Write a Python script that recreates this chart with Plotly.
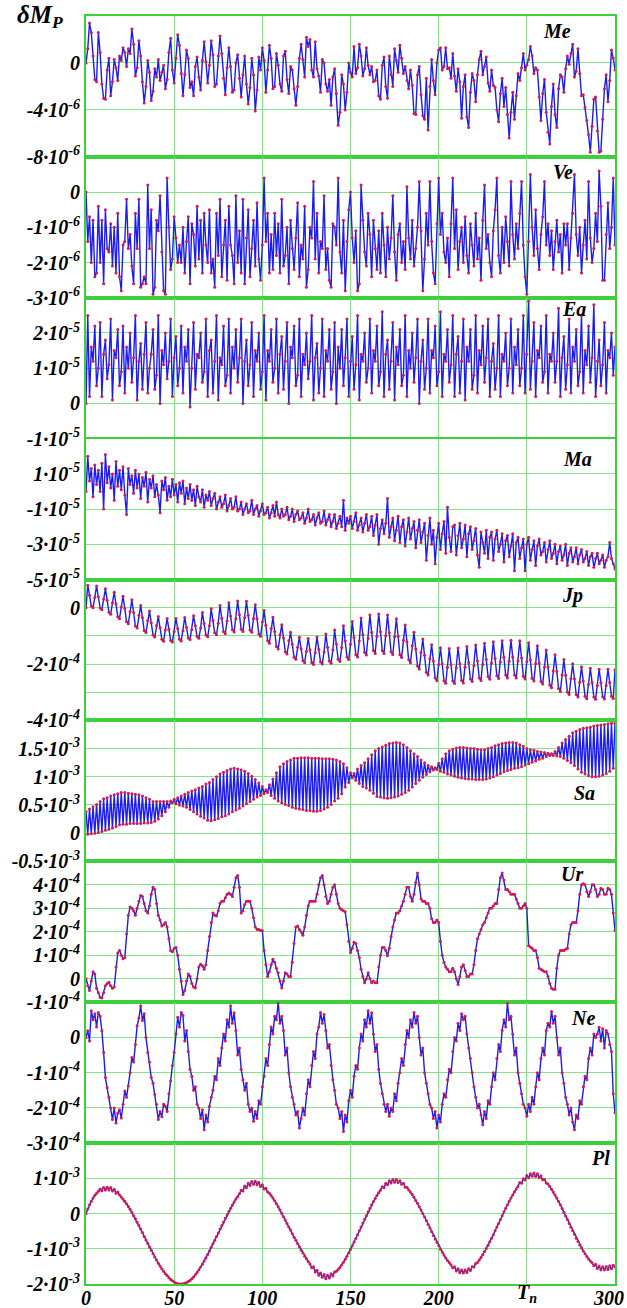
import plotly.graph_objects as go
from plotly.subplots import make_subplots

# ---------------- data (in scaled units) ----------------
# Me : units of 1e-6
me = [0, 1.2, 3.4, 2.6, 0.6, -1.4, -1.6, 2.6, 0.9, -1.8,
      -3.0, -3.1, -0.6, 0.4, -2.8, -1.6, 0.3, -0.4, -1.5, 0.6,
      0.2, 1.3, 0.9, -0.3, 1.2, 0.8, 2.9, 1.6, -1.1, -0.4,
      1.9, 0.6, -1.6, -3.4, -2.0, 0.2, -0.8, -3.2, -2.4, -0.5,
      -1.2, 0.3, -1.5, -0.8, -0.2, -2.2, -1.4, 0.9, 2.1, -0.6,
      -1.7, 0.4, 2.4, 1.5, -0.9, -2.8, -1.0, 1.1, 0.4, -2.1,
      -1.6, -2.8, -0.3, 0.5, -1.2, -2.3, 0.2, 1.8, 0.1, -1.7,
      -0.2, 1.9, 0.7, -2.0, -1.8, 0.6, 2.3, 0.8, -1.3, -2.7,
      -0.4, 1.3, -0.3, -2.5, -2.3, 0.0, 0.7, -1.3, -2.9, -1.0,
      0.6, -1.8, -3.5, -2.1, 0.4, -1.0, -4.1, -2.3, 0.5, -0.6,
      1.3, 0.2, -2.5, -0.6, 1.5, 0.4, -2.2, -2.0, 0.8, -0.2,
      -1.8, -2.4, 0.6, 1.0, -1.4, -2.6, -0.3, -0.6, -2.2, -3.6,
      -2.0, 0.4, 1.6, 0.3, -1.2, 2.2, 1.4, 2.0, -0.6, -1.2,
      1.8, -0.5, -1.1, -2.5, 0.3, 0.0, -1.8, -2.4, -1.4, -3.6,
      -1.2, -0.5, -2.6, -5.3, -4.2, -1.0, -1.8, -4.0, -2.5, 0.0,
      -0.8, -1.2, 1.4, -0.9, -0.4, 1.6, 0.6, -1.1, -0.5, 1.3,
      -0.2, -1.0, -0.3, -1.6, -1.5, -0.6, -2.8, -3.1, -0.2, 0.5,
      -2.0, -3.0, 0.6, -1.0, -2.0, 1.2, 0.2, -0.8, 1.5, 0.4,
      -0.9, -0.3, -1.5, -2.2, -0.6, -1.9, -4.3, -4.4, -1.0, -0.3,
      -2.7, -4.5, -4.8, -1.3, -5.7, -2.0, 0.3, -1.5, -2.7, 0.0,
      1.1, 1.3, -0.6, -0.3, 1.3, -0.5, -0.4, -1.3, 0.8, -1.1,
      -2.4, -0.5, -1.6, -4.7, -2.0, -1.0, -4.6, -5.5, -2.5, -0.9,
      -1.5, -3.3, -1.0, 0.3, 1.0, -1.0, -0.3, 0.5, -1.7, -2.4,
      -0.6, -1.9, -2.1, -4.0, -5.0, -2.6, -1.3, -3.7, -2.1, -4.4,
      -6.4, -4.2, -2.5, -4.8, -2.8, -0.9, -1.5, -0.4, 0.8, -0.6,
      -0.2, 0.3, 1.4, 0.6, -0.9, -0.4, -0.6, -2.9, -4.9, -2.6,
      -1.4, -4.2, -5.9, -6.9, -3.7, -1.8, -4.4, -5.5, -2.2, -1.0,
      -1.2, -2.5, -0.5, 0.6, -0.1, 0.8, 1.6, -1.2, -0.7, 1.2,
      -0.9, -2.8, -2.7, -3.8, -4.9, -6.1, -7.6, -5.4, -3.1, -2.9,
      -5.8, -7.6, -7.5, -4.8, -2.2, -1.0, -3.3, -1.5, 1.1, 0.4,
      -0.6]

# Ve : units of 1e-6
ve = [0.0, -1.4, -0.7, -2.0, -0.8, -2.4, -2.3, -0.4, -2.0, -0.8,
      -2.6, -0.5, -1.6, -1.7, -0.9, -2.1, -1.0, -2.3, -0.6, -2.4,
      -2.8, -1.5, -1.4, -0.2, -1.6, -1.2, -2.1, -2.6, -0.6, -1.6,
      -0.2, -2.7, -2.6, -2.4, -2.6, 0.2, -1.6, -0.5, -2.9, -2.7,
      -0.8, -1.1, -0.1, -1.7, -2.8, -2.9, 0.4, -1.0, -2.2, -1.9,
      -0.7, -1.3, -2.0, -1.5, -2.0, -1.0, -2.3, -1.4, -0.7, -2.6,
      -0.9, -1.2, -2.1, -0.4, -1.9, -0.8, -2.3, -0.6, -1.5, -2.0,
      -0.5, -2.3, -1.9, -2.7, -0.6, -1.8, -0.2, -2.4, -1.5, -0.8,
      -2.5, -0.4, -1.5, -1.8, -2.6, -0.1, -2.0, -1.1, -2.3, -0.2,
      -2.6, -1.3, -0.5, -2.4, -1.6, -0.8, -2.1, -0.3, -1.9, -2.5,
      -1.5, 0.4, -1.4, -0.6, -2.3, -1.2, -2.2, -0.6, -1.8, -0.9,
      -2.3, -0.2, -2.1, -1.8, -1.0, -2.6, -0.8, -1.6, -2.2, -1.3,
      -0.3, -2.4, -1.5, -1.9, -0.4, -2.7, -2.2, -1.0, -1.3, 0.3,
      -1.9, -0.6, -2.3, -1.4, -1.6, -0.1, -2.2, -1.6, -2.5, -2.7,
      -0.9, -1.0, -1.5, 0.4, -1.7, -2.3, -0.8, -2.8, -1.4, -0.5,
      0.0, -1.3, -2.0, -1.1, -2.8, -2.6, 0.2, -0.8, -1.7, -2.1,
      -0.6, -1.2, -2.4, -0.8, -1.6, -2.2, -1.1, -2.3, -0.6, -1.5,
      -2.4, -1.0, -1.9, -1.3, -0.1, -1.7, -2.5, -1.2, -0.9, -2.0,
      -1.4, -2.2, 0.15, -1.3, -1.9, -0.8, -2.1, -1.6, -1.0, 0.3,
      -1.1, -2.8, -1.9, -0.6, -1.5, 0.3, -1.4, -2.3, -2.6, -0.9,
      0.4, -1.2, -0.6, -1.7, -2.0, -1.3, -2.4, -0.9, 0.4, -1.6,
      -0.5, -2.2, -1.4, -1.0, -2.0, -0.7, -1.8, -2.3, -0.9, -1.5,
      -2.1, -0.6, -1.9, -1.3, -2.5, -0.8, 0.2, -1.6, -1.2, -2.0,
      -2.4, -1.1, -0.5, 0.4, -1.8, -2.3, -1.0, -2.0, -0.7, -1.4,
      -2.1, 0.3, -1.2, -1.9, -0.9, -1.6, -0.6, 0.3, -1.5, -2.4,
      -2.9, -1.4, 0.5, -1.0, -1.8, -0.5, -1.6, -2.2, -1.2, -0.7,
      0.3, -1.5, -0.9, -1.8, -1.1, -2.2, -1.4, -0.8, -1.7, -1.2,
      -2.3, -0.9, -1.5, -0.9, -2.2, -1.3, -0.6, 0.5, -1.2, -1.8,
      -1.0, -2.3, -1.5, -0.8, -1.9, 0.3, -1.3, -2.0, -1.6, -0.6,
      -1.4, 0.6, -0.4, -2.5, -2.5, -1.2, -0.3, -1.6, -1.0, 0.4,
      -1.5]

# Ea : units of 1e-5
ea = [0.0, 2.5, 0.2, 1.6, 1.2, 2.2, 0.5, 1.0, 2.3, 0.2,
      1.4, 1.8, 0.7, 1.1, 2.4, 0.1, 1.5, 1.3, 2.1, 0.5,
      0.9, 2.2, 0.3, 1.6, 1.0, 2.0, 0.6, 1.3, 2.5, 0.1,
      1.2, 1.7, 0.4, 1.4, 2.3, 0.3, 1.0, 1.4, 2.1, 0.4,
      0.8, 2.5, 0.0, 1.5, 1.1, 2.0, 0.7, 1.2, 2.4, 0.2,
      1.3, 1.9, 0.5, 1.0, 2.2, 0.3, 1.6, 1.2, 2.1, -0.1,
      1.0, 2.3, 0.4, 1.4, 1.3, 2.0, 0.6, 0.9, 2.4, 0.2,
      1.5, 1.8, 0.3, 1.2, 2.5, 0.1, 1.3, 1.1, 2.2, 0.5,
      0.8, 2.4, 0.3, 1.6, 1.0, 2.1, 0.6, 1.3, 2.4, 0.0,
      1.2, 1.8, 0.5, 1.1, 2.3, 0.2, 1.5, 1.2, 2.0, 0.4,
      0.9, 2.5, 0.1, 1.5, 1.2, 2.1, 0.6, 1.0, 2.4, 0.3,
      1.4, 1.9, 0.4, 1.2, 2.3, 0.0, 1.6, 1.3, 2.2, 0.5,
      0.8, 2.4, 0.2, 1.4, 1.1, 2.0, 0.7, 1.2, 2.5, 0.1,
      1.3, 1.7, 0.3, 1.0, 2.4, 0.2, 1.5, 1.2, 2.1, 0.4,
      0.9, 2.3, 0.0, 1.6, 1.0, 2.1, 0.5, 1.3, 2.4, 0.2,
      1.2, 1.9, 0.4, 1.1, 2.5, 0.1, 1.4, 1.2, 2.0, 0.6,
      1.0, 2.4, 0.3, 1.5, 1.2, 2.2, 0.5, 0.9, 2.6, 0.2,
      1.4, 1.8, 0.4, 1.2, 2.3, 0.1, 1.6, 1.1, 2.1, 0.5,
      0.8, 2.5, 0.2, 1.5, 1.0, 2.0, 0.6, 1.3, 2.4, 0.0,
      1.2, 1.8, 0.4, 1.0, 2.4, 0.3, 1.5, 1.3, 2.2, 0.5,
      0.9, 2.6, 0.2, 1.4, 1.2, 2.1, 0.6, 1.1, 2.5, 0.2,
      1.4, 1.9, 0.3, 1.2, 2.4, 0.1, 1.6, 1.2, 2.1, 0.4,
      0.8, 2.5, 0.3, 1.5, 1.1, 2.2, 0.6, 1.3, 2.4, 0.2,
      1.2, 1.7, 0.4, 1.0, 2.5, 0.2, 1.4, 1.2, 2.0, 0.5,
      1.0, 2.4, 0.3, 1.6, 1.1, 2.1, 0.5, 1.0, 2.5, 0.3,
      1.4, 2.9, 0.4, 1.2, 2.3, 0.2, 1.5, 1.3, 2.2, 0.6,
      0.9, 2.5, 0.3, 1.4, 1.2, 2.0, 0.6, 1.2, 2.7, 0.2,
      1.3, 1.9, 0.4, 1.1, 2.4, 0.3, 1.6, 1.2, 2.1, 0.5,
      0.9, 2.5, 0.3, 1.5, 1.1, 2.2, 0.6, 1.3, 2.8, 0.2,
      1.2, 1.8, 0.5, 1.1, 2.3, 0.3, 1.5, 1.3, 2.0, 0.8,
      1.6]

# Ma : units of 1e-5
ma = [0.0, 2.0, 0.6, 1.3, -0.3, 1.5, 0.4, 1.2, 0.0, 1.6,
      -1.0, 2.1, 0.5, 1.4, 0.2, 1.0, -0.5, 1.7, 0.3, 1.2,
      0.1, 1.4, -0.2, -1.3, 1.3, 0.4, 0.9, -0.1, 1.2, 0.2,
      1.0, -0.4, 0.8, 0.3, 1.1, -0.6, 0.7, 0.2, 0.9, -0.3,
      0.4, -0.2, -1.2, 0.6, 0.1, 0.8, -0.5, 0.3, -0.3, 0.7,
      -0.2, 0.4, -0.6, 0.5, -0.1, 0.6, -0.7, 0.2, -0.4, 0.4,
      -0.5, 0.1, -0.8, 0.3, -0.3, -0.6, 0.1, -0.9, -0.2, -0.5,
      0.0, -0.8, -0.4, -0.1, -1.0, -0.6, -0.3, -0.9, -0.7, -0.2,
      -1.1, -0.8, -0.4, -1.0, -0.9, -0.3, -1.1, -1.0, -0.6, -1.3,
      -1.0, -0.7, -1.2, -1.1, -0.5, -1.3, -1.0, -0.8, -1.4, -1.1,
      -0.7, -1.3, -1.2, -0.9, -1.5, -1.2, -0.8, -1.4, -0.6, -1.3,
      -1.5, -1.0, -1.4, -1.3, -0.9, -1.6, -1.4, -1.0, -1.7, -1.3,
      -1.1, -1.6, -1.5, -1.2, -1.8, -1.5, -1.0, -1.7, -1.6, -1.3,
      -1.9, -1.5, -1.2, -1.8, -1.7, -1.1, -1.9, -1.6, -1.3, -2.0,
      -1.7, -1.3, -2.1, -1.8, -1.4, -2.0, -0.5, -2.2, -1.5, -1.8,
      -1.4, -2.1, -1.7, -1.2, -2.2, -1.9, -1.5, -2.3, -1.8, -1.3,
      -2.2, -2.0, -1.4, -2.5, -1.9, -1.3, -3.0, -2.1, -1.6, -2.4,
      -1.8, -0.4, -2.6, -2.0, -1.5, -2.8, -2.2, -1.4, -2.9, -2.0,
      -1.6, -3.1, -2.3, -1.5, -2.7, -2.1, -1.7, -3.2, -2.2, -1.6,
      -2.9, -2.3, -1.8, -3.9, -2.5, -1.5, -3.0, -2.2, -4.1, -2.6,
      -1.8, -3.3, -2.4, -1.7, -3.5, -0.9, -2.6, -3.4, -2.0, -1.9,
      -3.6, -2.5, -1.8, -3.2, -2.7, -1.9, -3.7, -2.4, -2.0, -3.3,
      -2.8, -2.1, -3.6, -4.3, -2.3, -2.9, -3.5, -2.2, -3.8, -2.6,
      -2.3, -3.9, -2.7, -2.2, -3.4, -3.0, -2.4, -4.0, -2.8, -2.5,
      -3.7, -3.1, -2.4, -4.5, -2.9, -2.6, -3.8, -3.2, -2.7, -4.5,
      -3.0, -2.6, -3.9, -3.3, -2.8, -4.2, -3.1, -2.7, -3.6, -3.4,
      -2.9, -4.0, -3.3, -2.8, -3.8, -3.5, -3.0, -4.1, -3.4, -3.1,
      -3.9, -3.6, -3.0, -4.2, -3.5, -3.2, -4.0, -3.7, -3.2, -4.1,
      -3.6, -3.3, -4.0, -3.8, -3.4, -4.2, -3.7, -3.5, -4.3, -3.8,
      -3.5, -4.1, -3.9, -3.6, -4.3, -3.9, -3.7, -2.9, -3.8, -4.1,
      -4.4]

# Jp : units of 1e-4
jp = [0.00, 0.80, 0.44, 0.06, 0.00, 0.36, 0.77, 0.39, -0.01, -0.07,
      0.31, 0.67, 0.27, -0.16, -0.23, 0.18, 0.55, 0.13, -0.32, -0.39,
      0.03, 0.41, -0.03, -0.50, -0.57, -0.13, 0.28, -0.17, -0.65, -0.72,
      -0.27, 0.08, -0.35, -0.81, -0.88, -0.45, -0.12, -0.53, -0.97, -1.04,
      -0.63, -0.31, -0.71, -1.12, -1.19, -0.79, -0.38, -0.76, -1.16, -1.22,
      -0.84, -0.38, -0.74, -1.12, -1.18, -0.82, -0.35, -0.70, -1.07, -1.13,
      -0.78, -0.28, -0.64, -1.02, -1.08, -0.72, -0.17, -0.56, -0.97, -1.03,
      -0.64, -0.04, -0.45, -0.89, -0.96, -0.55, 0.08, -0.37, -0.85, -0.92,
      -0.47, 0.18, -0.29, -0.78, -0.86, -0.39, 0.24, -0.25, -0.76, -0.84,
      -0.35, 0.23, -0.27, -0.79, -0.87, -0.38, 0.11, -0.39, -0.93, -1.01,
      -0.51, -0.10, -0.62, -1.17, -1.26, -0.74, -0.34, -0.84, -1.38, -1.46,
      -0.96, -0.60, -1.07, -1.56, -1.64, -1.17, -0.87, -1.30, -1.76, -1.83,
      -1.40, -1.05, -1.46, -1.88, -1.95, -1.55, -1.09, -1.50, -1.94, -2.01,
      -1.60, -1.04, -1.47, -1.93, -2.00, -1.57, -0.93, -1.40, -1.89, -1.97,
      -1.50, -0.79, -1.29, -1.83, -1.91, -1.41, -0.64, -1.18, -1.75, -1.84,
      -1.30, -0.49, -1.06, -1.66, -1.75, -1.18, -0.36, -0.95, -1.58, -1.68,
      -1.09, -0.26, -0.87, -1.52, -1.62, -1.01, -0.22, -0.85, -1.52, -1.62,
      -0.99, -0.26, -0.89, -1.56, -1.66, -1.03, -0.39, -1.01, -1.67, -1.77,
      -1.15, -0.61, -1.21, -1.85, -1.95, -1.35, -0.87, -1.46, -2.07, -2.17,
      -1.59, -1.11, -1.69, -2.29, -2.39, -1.81, -1.31, -1.89, -2.49, -2.59,
      -2.01, -1.42, -1.99, -2.59, -2.68, -2.11, -1.45, -2.01, -2.60, -2.69,
      -2.13, -1.43, -1.99, -2.58, -2.67, -2.11, -1.38, -1.94, -2.53, -2.62,
      -2.06, -1.32, -1.89, -2.49, -2.58, -2.01, -1.26, -1.84, -2.44, -2.54,
      -1.96, -1.21, -1.80, -2.41, -2.51, -1.93, -1.17, -1.76, -2.39, -2.49,
      -1.90, -1.15, -1.75, -2.39, -2.49, -1.89, -1.17, -1.78, -2.43, -2.53,
      -1.92, -1.24, -1.85, -2.50, -2.60, -1.99, -1.35, -1.96, -2.61, -2.71,
      -2.10, -1.50, -2.10, -2.74, -2.84, -2.24, -1.67, -2.26, -2.87, -2.97,
      -2.39, -1.84, -2.40, -2.99, -3.08, -2.52, -1.99, -2.52, -3.08, -3.17,
      -2.64, -2.09, -2.60, -3.14, -3.23, -2.72, -2.15, -2.65, -3.17, -3.25,
      -2.76, -2.18, -2.66, -3.16, -3.24, -2.76, -2.18, -2.65, -3.14, -3.22,
      -2.20]

# Sa : units of 1e-3
sa = [0.38, -0.02, 0.43, -0.01, 0.47, 0.00, 0.51, 0.01, 0.56, 0.03,
      0.61, 0.05, 0.63, 0.07, 0.66, 0.09, 0.68, 0.12, 0.70, 0.15,
      0.72, 0.16, 0.72, 0.16, 0.71, 0.17, 0.70, 0.17, 0.69, 0.17,
      0.68, 0.17, 0.66, 0.18, 0.63, 0.18, 0.60, 0.19, 0.56, 0.21,
      0.56, 0.25, 0.56, 0.31, 0.56, 0.38, 0.56, 0.46, 0.57, 0.54,
      0.60, 0.52, 0.63, 0.50, 0.66, 0.48, 0.69, 0.46, 0.72, 0.42,
      0.75, 0.38, 0.77, 0.34, 0.80, 0.30, 0.83, 0.27, 0.87, 0.23,
      0.90, 0.22, 0.95, 0.24, 1.00, 0.26, 1.05, 0.29, 1.08, 0.31,
      1.11, 0.34, 1.14, 0.38, 1.15, 0.41, 1.14, 0.44, 1.12, 0.48,
      1.10, 0.52, 1.06, 0.56, 1.01, 0.60, 0.95, 0.64, 0.89, 0.67,
      0.83, 0.70, 0.77, 0.72, 0.86, 0.67, 0.96, 0.62, 1.07, 0.57,
      1.18, 0.54, 1.23, 0.51, 1.27, 0.49, 1.30, 0.46, 1.33, 0.44,
      1.33, 0.43, 1.34, 0.42, 1.34, 0.40, 1.34, 0.40, 1.33, 0.39,
      1.33, 0.39, 1.33, 0.40, 1.32, 0.43, 1.32, 0.46, 1.32, 0.51,
      1.31, 0.57, 1.30, 0.62, 1.27, 0.70, 1.23, 0.82, 1.16, 0.90,
      1.07, 0.98, 1.06, 0.94, 1.14, 0.88, 1.20, 0.83, 1.25, 0.80,
      1.32, 0.76, 1.39, 0.71, 1.46, 0.65, 1.50, 0.64, 1.53, 0.63,
      1.56, 0.62, 1.59, 0.63, 1.60, 0.64, 1.61, 0.66, 1.60, 0.69,
      1.57, 0.72, 1.52, 0.76, 1.46, 0.82, 1.41, 0.88, 1.36, 0.94,
      1.30, 0.99, 1.25, 1.04, 1.20, 1.09, 1.18, 1.12, 1.16, 1.13,
      1.24, 1.10, 1.32, 1.08, 1.41, 1.05, 1.46, 1.03, 1.49, 1.01,
      1.51, 0.99, 1.52, 0.98, 1.52, 0.97, 1.51, 0.96, 1.50, 0.96,
      1.50, 0.95, 1.49, 0.95, 1.48, 0.95, 1.48, 0.96, 1.50, 0.98,
      1.52, 1.00, 1.55, 1.03, 1.57, 1.06, 1.59, 1.09, 1.60, 1.11,
      1.61, 1.13, 1.61, 1.15, 1.60, 1.16, 1.57, 1.18, 1.54, 1.21,
      1.50, 1.23, 1.48, 1.26, 1.47, 1.28, 1.45, 1.31, 1.44, 1.33,
      1.43, 1.36, 1.42, 1.38, 1.41, 1.38, 1.45, 1.37, 1.52, 1.36,
      1.60, 1.33, 1.66, 1.29, 1.72, 1.25, 1.78, 1.20, 1.81, 1.14,
      1.84, 1.08, 1.86, 1.05, 1.87, 1.02, 1.88, 1.00, 1.90, 1.00,
      1.91, 1.01, 1.92, 1.03, 1.93, 1.06, 1.94, 1.10, 1.95, 1.15,
      1.95]

# Ur : units of 1e-4
ur = [0.0, -0.3, -0.5, -0.1, 0.3, 0.2, -0.4, -0.6, -0.8, -0.82,
      -0.6, -0.3, -0.2, -0.15, -0.3, -0.4, -0.35, 0.5, 1.1, 1.2,
      1.0, 0.85, 0.9, 1.9, 2.7, 3.05, 3.0, 2.9, 2.7, 3.0,
      3.3, 3.55, 3.5, 3.2, 2.9, 2.8, 3.1, 3.6, 3.9, 3.8,
      3.2, 2.7, 2.5, 2.25, 2.3, 2.4, 2.2, 1.7, 1.2, 1.15,
      1.3, 1.33, 1.0, 0.4, -0.1, -0.67, -0.5, -0.1, 0.2, 0.1,
      -0.2, -0.35, -0.39, 0.0, 0.5, 0.62, 0.55, 0.4, 0.6, 1.2,
      1.8, 2.4, 2.8, 2.7, 2.67, 2.9, 3.2, 3.3, 3.3, 3.45,
      3.6, 3.65, 3.6, 3.5, 3.9, 4.3, 4.4, 3.9, 2.8, 2.9,
      3.16, 3.3, 3.3, 3.3, 3.0, 2.6, 2.2, 2.1, 2.1, 2.05,
      2.05, 1.2, 0.6, 0.1, 0.3, 0.6, 0.83, 0.7, 0.45, 0.25,
      -0.1, -0.39, -0.1, 0.25, 0.2, 0.1, 0.1, 0.7, 1.5, 2.2,
      2.25, 2.1, 2.0, 1.85, 2.2, 2.7, 3.1, 3.3, 3.3, 3.3,
      3.3, 3.6, 4.0, 4.3, 4.4, 4.0, 3.5, 3.2, 3.3, 3.6,
      3.9, 4.0, 3.6, 3.2, 3.0, 2.95, 2.9, 2.85, 2.3, 1.6,
      1.12, 1.3, 1.55, 1.5, 1.2, 0.9, 0.4, 0.1, -0.17, 0.0,
      0.25, 0.0, -0.17, -0.1, -0.17, -0.17, 0.5, 1.0, 1.33, 1.33,
      1.2, 0.98, 1.3, 1.8, 2.2, 2.5, 2.8, 2.8, 2.9, 3.1,
      3.3, 3.6, 3.9, 3.9, 3.5, 3.3, 3.6, 4.1, 4.5, 4.0,
      3.4, 3.3, 3.3, 3.2, 3.2, 3.0, 2.55, 2.4, 2.4, 2.5,
      2.4, 1.6, 1.0, 0.7, 0.5, 0.4, 0.3, 0.3, 0.45, 0.3,
      0.0, -0.25, 0.1, 0.5, 0.6, 0.35, 0.1, 0.1, 0.2, 0.2,
      0.6, 1.2, 1.7, 1.9, 2.1, 2.3, 2.4, 2.6, 2.8, 3.0,
      3.0, 3.1, 3.2, 3.2, 3.8, 4.3, 4.5, 4.2, 3.8, 3.8,
      3.7, 3.6, 3.6, 3.6, 3.4, 3.2, 3.0, 3.0, 3.1, 3.2,
      3.0, 1.4, 1.35, 1.3, 1.2, 1.2, 0.9, 0.45, 0.4, 0.35,
      0.3, 0.3, 0.1, -0.2, -0.4, -0.45, -0.45, 0.45, 1.0, 1.2,
      1.2, 1.2, 1.26, 1.3, 1.9, 2.3, 2.4, 2.4, 2.4, 2.9,
      3.6, 4.0, 4.05, 4.0, 3.7, 3.5, 3.7, 4.0, 4.0, 3.8,
      3.5, 3.6, 3.85, 3.8, 3.6, 3.6, 3.85, 3.8, 3.6, 2.8,
      2.05]

# Ne : units of 1e-4
ne = [0.0, 0.19, -0.1, 0.76, 0.5, 0.67, 0.3, 0.71, 0.6, 0.19,
      -0.43, -1.14, -1.43, -1.7, -2.0, -2.33, -2.0, -2.43, -2.15, -2.05,
      -2.29, -1.9, -1.52, -1.7, -1.38, -1.0, -0.57, -0.7, -0.2, 0.33,
      0.55, 0.9, 0.48, 0.67, 0.0, -0.43, -0.7, -1.14, -1.3, -1.62,
      -1.9, -2.33, -2.1, -2.25, -1.9, -1.95, -2.1, -1.6, -1.24, -0.8,
      -0.43, 0.1, 0.57, 0.3, 0.71, 0.62, -0.1, 0.2, -0.4, -0.9,
      -1.1, -1.5, -1.4, -1.9, -2.0, -2.3, -2.05, -2.62, -2.2, -2.4,
      -1.95, -1.7, -1.5, -1.1, -1.2, -0.6, -0.8, -0.3, 0.1, -0.1,
      0.5, 0.3, 0.9, 0.4, 0.7, 0.2, -0.5, -0.3, -0.9, -1.2,
      -1.5, -1.3, -1.9, -2.1, -2.0, -2.38, -2.1, -2.3, -1.8, -1.9,
      -1.4, -1.1, -0.6, -0.8, -0.2, 0.3, 0.1, 0.6, 0.5, 1.0,
      0.4, 0.6, 0.2, -0.5, -0.3, -1.0, -1.4, -1.7, -1.9, -2.2,
      -2.1, -2.57, -2.3, -2.0, -2.2, -1.6, -1.2, -1.4, -0.8, -0.4,
      -0.6, 0.1, 0.3, 0.71, 0.4, 0.65, 0.2, -0.3, -0.2, -0.8,
      -1.2, -1.5, -1.9, -2.0, -2.3, -2.1, -2.67, -2.2, -2.4, -1.8,
      -1.5, -1.7, -1.1, -0.8, -0.9, -0.3, 0.1, -0.1, 0.5, 0.3,
      0.76, 0.4, 0.7, 0.1, -0.4, -0.2, -0.9, -1.3, -1.6, -1.9,
      -2.1, -1.9, -2.24, -2.0, -2.1, -1.6, -1.8, -1.3, -1.0, -0.6,
      -0.8, -0.2, 0.2, 0.0, 0.5, 0.3, 0.71, 0.4, 0.6, 0.0,
      -0.5, -0.3, -1.0, -1.3, -1.6, -1.9, -2.0, -2.3, -2.1, -2.57,
      -2.2, -2.4, -1.9, -1.6, -1.7, -1.2, -0.9, -1.0, -0.4, 0.0,
      -0.1, 0.4, 0.2, 0.67, 0.5, 0.6, 0.1, -0.3, -0.6, -1.0,
      -1.4, -1.7, -2.0, -1.9, -2.2, -2.48, -2.1, -2.3, -1.8, -1.9,
      -1.4, -1.0, -1.2, -0.6, -0.2, -0.4, 0.2, 0.5, 0.3, 0.97,
      0.5, 0.6, 0.1, -0.5, -0.3, -1.0, -1.3, -1.6, -1.9, -2.0,
      -2.24, -1.9, -2.1, -1.7, -1.9, -1.4, -1.0, -1.2, -0.6, -0.3,
      -0.5, 0.2, 0.4, 0.3, 0.74, 0.4, 0.6, 0.0, -0.5, -0.3,
      -1.0, -1.3, -1.7, -1.9, -2.2, -2.0, -2.4, -2.62, -2.2, -2.3,
      -1.8, -1.9, -1.4, -1.1, -1.2, -0.6, -0.3, -0.5, 0.1, 0.0,
      0.1, 0.29, -0.1, 0.25, -0.3, 0.2, 0.1, -0.2, -0.4, -1.6,
      -2.14]

# Pl : units of 1e-3
pl = [0.00, 0.13, 0.25, 0.35, 0.44, 0.52, 0.58, 0.63, 0.70, 0.65,
      0.74, 0.67, 0.75, 0.67, 0.74, 0.64, 0.69, 0.58, 0.61, 0.53,
      0.47, 0.41, 0.35, 0.28, 0.20, 0.12, 0.03, -0.06, -0.15, -0.25,
      -0.34, -0.44, -0.54, -0.65, -0.75, -0.85, -0.95, -1.04, -1.14, -1.23,
      -1.32, -1.41, -1.49, -1.57, -1.64, -1.71, -1.76, -1.82, -1.87, -1.91,
      -1.94, -1.97, -1.99, -2.00, -2.00, -2.00, -1.98, -1.96, -1.93, -1.90,
      -1.85, -1.80, -1.74, -1.67, -1.60, -1.52, -1.44, -1.35, -1.26, -1.16,
      -1.06, -0.96, -0.86, -0.76, -0.65, -0.55, -0.44, -0.34, -0.24, -0.13,
      -0.04, 0.06, 0.15, 0.24, 0.33, 0.41, 0.48, 0.56, 0.66, 0.64,
      0.78, 0.73, 0.86, 0.80, 0.91, 0.83, 0.92, 0.82, 0.89, 0.77,
      0.82, 0.70, 0.72, 0.61, 0.58, 0.51, 0.44, 0.36, 0.28, 0.19,
      0.10, 0.01, -0.09, -0.18, -0.28, -0.38, -0.47, -0.57, -0.67, -0.76,
      -0.86, -0.95, -1.04, -1.12, -1.21, -1.28, -1.36, -1.43, -1.54, -1.51,
      -1.66, -1.61, -1.75, -1.69, -1.81, -1.73, -1.85, -1.75, -1.83, -1.71,
      -1.77, -1.66, -1.64, -1.59, -1.53, -1.46, -1.38, -1.30, -1.21, -1.12,
      -1.02, -0.92, -0.81, -0.71, -0.60, -0.49, -0.38, -0.27, -0.16, -0.06,
      0.05, 0.15, 0.25, 0.34, 0.43, 0.51, 0.59, 0.66, 0.76, 0.73,
      0.86, 0.82, 0.93, 0.87, 0.97, 0.89, 0.97, 0.88, 0.93, 0.83,
      0.86, 0.75, 0.75, 0.67, 0.61, 0.54, 0.46, 0.37, 0.29, 0.19,
      0.10, 0.00, -0.10, -0.20, -0.31, -0.41, -0.52, -0.62, -0.72, -0.82,
      -0.91, -1.01, -1.09, -1.18, -1.26, -1.33, -1.39, -1.45, -1.54, -1.51,
      -1.63, -1.57, -1.68, -1.60, -1.69, -1.60, -1.67, -1.57, -1.62, -1.51,
      -1.52, -1.42, -1.39, -1.32, -1.25, -1.17, -1.08, -0.99, -0.90, -0.80,
      -0.70, -0.60, -0.49, -0.38, -0.28, -0.17, -0.06, 0.05, 0.15, 0.25,
      0.35, 0.44, 0.53, 0.62, 0.70, 0.77, 0.88, 0.86, 0.99, 0.95,
      1.08, 1.02, 1.13, 1.06, 1.15, 1.05, 1.13, 1.02, 1.07, 0.96,
      0.97, 0.87, 0.84, 0.77, 0.69, 0.61, 0.53, 0.44, 0.34, 0.25,
      0.14, 0.04, -0.07, -0.17, -0.28, -0.39, -0.49, -0.59, -0.70, -0.79,
      -0.89, -0.98, -1.06, -1.14, -1.22, -1.29, -1.35, -1.40, -1.48, -1.44,
      -1.56, -1.49, -1.60, -1.51, -1.60, -1.50, -1.59, -1.48, -1.57, -1.47,
      -1.52]

panel_names = ["Me", "Ve", "Ea", "Ma", "Jp", "Sa", "Ur", "Ne", "Pl"]
series = [me, ve, ea, ma, jp, sa, ur, ne, pl]
y_ranges = [[-8, 4], [-3, 1], [-1, 3], [-5, 3], [-4, 1], [-0.5, 2], [-1, 5], [-3, 1], [-2, 2]]
y_tickvals = [[-8, -4, 0, 4], [-3, -2, -1, 0, 1], [-1, 0, 1, 2, 3], [-5, -3, -1, 1, 3],
              [-4, -3, -2, -1, 0, 1], [-0.5, 0, 0.5, 1, 1.5, 2], [-1, 0, 1, 2, 3, 4, 5],
              [-3, -2, -1, 0, 1], [-2, -1, 0, 1, 2]]


def sci(m, e):
    return f"{m}·10<sup>{e}</sup>"


y_ticktext = [
    [sci("-8", "-6"), sci("-4", "-6"), "0", ""],
    [sci("-3", "-6"), sci("-2", "-6"), sci("-1", "-6"), "0", ""],
    [sci("-1", "-5"), "0", sci("1", "-5"), sci("2", "-5"), ""],
    [sci("-5", "-5"), sci("-3", "-5"), sci("-1", "-5"), sci("1", "-5"), ""],
    [sci("-4", "-4"), "", sci("-2", "-4"), "", "0", ""],
    [sci("-0.5", "-3"), "0", sci("0.5", "-3"), sci("1", "-3"), sci("1.5", "-3"), ""],
    [sci("-1", "-4"), "0", sci("1", "-4"), sci("2", "-4"), sci("3", "-4"), sci("4", "-4"), ""],
    [sci("-3", "-4"), sci("-2", "-4"), sci("-1", "-4"), "0", ""],
    [sci("-2", "-3"), sci("-1", "-3"), "0", sci("1", "-3"), ""],
]
label_pos = [(267, 2.7), (270.6, 0.58), (276.8, 2.67), (279, 1.85), (275.7, 0.43),
             (282.5, 0.72), (275.7, 4.48), (282, 0.54), (291.5, 1.57)]
x_tickvals = [0, 50, 100, 150, 200, 250, 300]
x_ticktext = ["0", "50", "100", "150", "200", "", ""]
tn_label = "T<sub>n</sub>"
last_x_label = "300"

# ---------------- style ----------------
BLUE = "#1c1cf0"
RED = "#d41a55"
GRID = "#86e486"
BORDER = "#3cd03c"
FONT = "Liberation Serif"
TXT = dict(family=FONT, size=20, color="black", weight="bold", style="italic")

fig = make_subplots(rows=9, cols=1, shared_xaxes=True, vertical_spacing=0)

for i, (name, ys) in enumerate(zip(panel_names, series)):
    r = i + 1
    fig.add_trace(go.Scatter(x=list(range(len(ys))), y=ys, mode="lines+markers",
                             line=dict(color=BLUE, width=1.4),
                             marker=dict(color=RED, size=3.0),
                             showlegend=False, hoverinfo="skip"), row=r, col=1)
    fig.update_yaxes(range=y_ranges[i], tickvals=y_tickvals[i], ticktext=y_ticktext[i],
                     row=r, col=1)
    lx, ly = label_pos[i]
    fig.add_annotation(x=lx, y=ly, text=name, showarrow=False, font=TXT, row=r, col=1)

fig.update_xaxes(range=[0, 300], tickvals=x_tickvals, ticktext=x_ticktext,
                 showgrid=True, gridcolor=GRID, gridwidth=1,
                 showline=True, linecolor=BORDER, linewidth=2, mirror=True,
                 zeroline=False, ticks="", automargin=False, tickfont=TXT,
                 ticklabeloverflow="allow")
fig.update_xaxes(showticklabels=True, ticklabelstandoff=-5, row=9, col=1)
fig.update_yaxes(showgrid=True, gridcolor=GRID, gridwidth=1,
                 showline=True, linecolor=BORDER, linewidth=2, mirror=True,
                 zeroline=False, ticks="", automargin=False, tickfont=TXT)

# T_n label (at tick 250) kept fully inside the page
fig.add_annotation(x=x_tickvals[5], y=0, xref="x9", yref="paper", xanchor="center", yanchor="bottom",
                   yshift=-24, text=tn_label, showarrow=False, font=TXT)
# last x tick label, nudged left so it stays inside the page like the reference
fig.add_annotation(x=x_tickvals[-1], y=0, xref="x9", yref="paper", xanchor="right", yanchor="middle",
                   xshift=11, yshift=-14, text=last_x_label, showarrow=False, font=TXT)

fig.add_annotation(xref="paper", yref="paper", x=-0.087, y=1.0, xanchor="center", yanchor="middle",
                   text="δM<sub>P</sub>", showarrow=False,
                   font=dict(family=FONT, size=25, color="black", weight="bold", style="italic"))

fig.update_layout(width=627, height=1308,
                  margin=dict(l=86, r=12, t=16, b=24),
                  paper_bgcolor="white", plot_bgcolor="white")

fig.write_html("out.html", config={"displayModeBar": False},
               post_script="document.body.style.margin='0';document.documentElement.style.overflow='hidden';")
